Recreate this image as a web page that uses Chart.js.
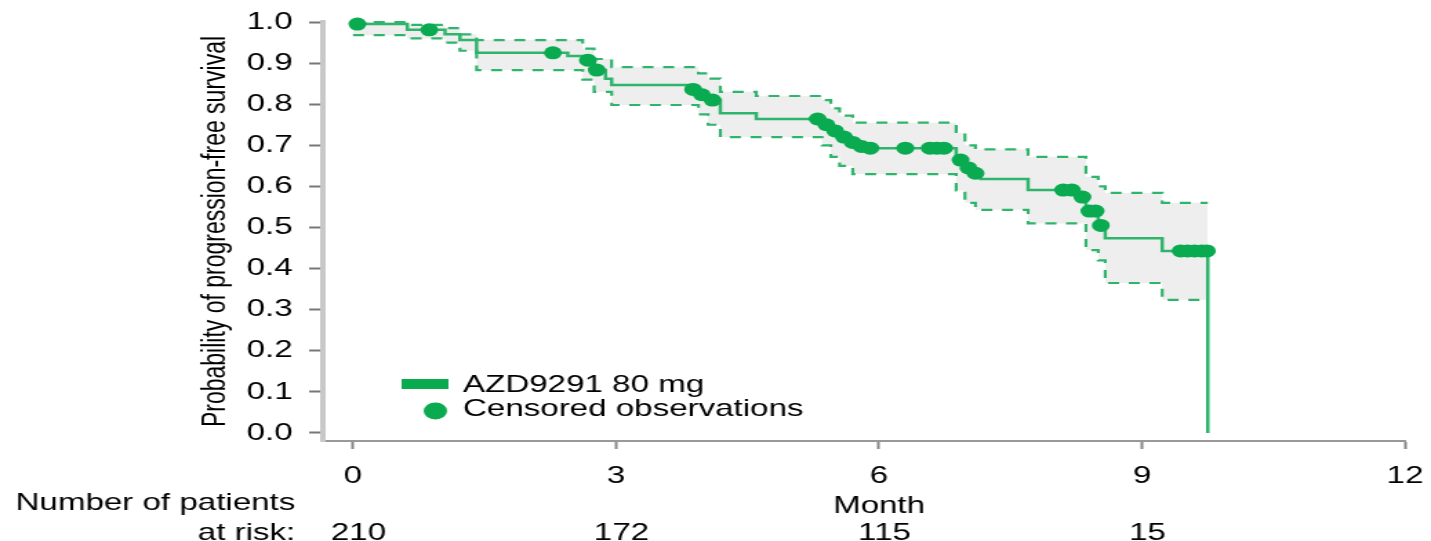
<!DOCTYPE html>
<html>
<head>
<meta charset="utf-8">
<script src="https://cdn.jsdelivr.net/npm/chart.js@4.4.1/dist/chart.umd.min.js"></script>
<style>
  html, body { margin: 0; padding: 0; background: #fff; overflow: hidden; }
  /* the drawing surface is rendered narrow and widened on screen (1431 / 1037) */
  #wrap { width: 1037px; height: 541px; transform: scaleX(1.37994); transform-origin: 0 0; }
  #pfs { display: block; }
</style>
</head>
<body>
<div id="wrap"><canvas id="pfs" width="1037" height="541"></canvas></div>
<script>
// Kaplan–Meier estimate of progression-free survival (months, probability)
const kmMonths = [0, 0.62, 1.05, 1.22, 1.41, 2.45, 2.65, 2.75, 2.88, 2.95, 3.84, 3.94, 4.05, 4.19, 4.60,
  5.35, 5.45, 5.55, 5.65, 5.75, 5.85, 6.88, 6.98, 7.06, 7.16, 7.70, 8.28, 8.36, 8.50, 8.58, 9.23, 9.75];
const kmSurvival = [0.995, 0.981, 0.970, 0.956, 0.925, 0.917, 0.907, 0.883, 0.862, 0.847, 0.836, 0.823, 0.810, 0.778, 0.764,
  0.750, 0.735, 0.720, 0.707, 0.697, 0.693, 0.664, 0.645, 0.632, 0.618, 0.591, 0.574, 0.540, 0.505, 0.474, 0.443, 0.000];

// censored observations sitting on the curve
const censorMonths = [0.05, 0.87, 2.28, 2.68, 2.78, 3.88, 3.98, 4.10, 5.30, 5.40, 5.50, 5.60, 5.70, 5.80, 5.90,
  6.30, 6.58, 6.66, 6.74, 6.93, 7.02, 7.10, 8.10, 8.20, 8.32, 8.40, 8.47, 8.53, 9.44, 9.52, 9.60, 9.68, 9.74];
const censorSurvival = [0.995, 0.981, 0.925, 0.907, 0.883, 0.836, 0.823, 0.810, 0.764, 0.750, 0.735, 0.720, 0.707, 0.697, 0.693,
  0.693, 0.693, 0.693, 0.693, 0.664, 0.645, 0.632, 0.591, 0.591, 0.574, 0.540, 0.540, 0.505, 0.443, 0.443, 0.443, 0.443, 0.443];

// pointwise confidence band
const ciMonths = [0, 0.62, 1.05, 1.22, 1.41, 2.62, 2.75, 2.95, 3.94, 4.05, 4.19, 4.60, 5.35, 5.45, 5.55,
  5.70, 6.88, 6.98, 7.10, 7.70, 8.36, 8.50, 8.58, 9.23, 9.75];
const ciUpper = [1.000, 0.993, 0.985, 0.970, 0.956, 0.935, 0.910, 0.890, 0.875, 0.862, 0.830, 0.820, 0.810, 0.790, 0.772,
  0.755, 0.730, 0.700, 0.690, 0.672, 0.623, 0.600, 0.584, 0.560, 0.560];
const ciLower = [0.968, 0.960, 0.950, 0.930, 0.883, 0.860, 0.830, 0.798, 0.775, 0.750, 0.720, 0.720, 0.700, 0.672, 0.650,
  0.630, 0.590, 0.560, 0.543, 0.510, 0.445, 0.420, 0.365, 0.324, 0.324];

// axes
const xTickValues = [0, 3, 6, 9, 12];
const xTickLabels = ['0', '3', '6', '9', '12'];
const yTickValues = [0, 0.1, 0.2, 0.3, 0.4, 0.5, 0.6, 0.7, 0.8, 0.9, 1.0];
const yTickLabels = ['0.0', '0.1', '0.2', '0.3', '0.4', '0.5', '0.6', '0.7', '0.8', '0.9', '1.0'];
const xTitle = 'Month';
const yTitle = 'Probability of progression-free survival';

// legend entries
const seriesName = 'AZD9291 80 mg';
const censorName = 'Censored observations';

// number at risk
const riskHeader = ['Number of patients', 'at risk:'];
const riskMonths = [0, 3, 6, 9];
const riskCounts = [210, 172, 115, 15];

const GREEN = '#0aab50';
const LINE_GREEN = '#2fb46c';
const FONT = '"Liberation Sans", Arial, Helvetica, sans-serif';

const toPoints = (xs, ys) => xs.map((x, i) => ({ x: x, y: ys[i] }));

// legend inside the plot and the at-risk table under the axis
const extras = {
  id: 'pfsExtras',
  afterDraw(chart) {
    const ctx = chart.ctx;
    const xs = chart.scales.x;
    ctx.save();
    ctx.font = '24px ' + FONT;
    ctx.fillStyle = '#000';
    ctx.textBaseline = 'middle';

    // legend
    ctx.fillStyle = GREEN;
    ctx.fillRect(291, 379, 34, 10);
    ctx.beginPath();
    ctx.arc(315.5, 411, 8.5, 0, Math.PI * 2);
    ctx.fill();
    ctx.fillStyle = '#000';
    ctx.textAlign = 'left';
    ctx.fillText(seriesName, 335.5, 385);
    ctx.fillText(censorName, 335.5, 409);

    // axis title
    ctx.textAlign = 'center';
    ctx.fillText(xTitle, xs.getPixelForValue(6), 506);

    // at-risk table
    ctx.textAlign = 'right';
    ctx.fillText(riskHeader[0], 214, 503);
    ctx.fillText(riskHeader[1], 214, 533);
    ctx.textAlign = 'center';
    riskMonths.forEach((m, i) => {
      ctx.fillText(String(riskCounts[i]), xs.getPixelForValue(m) + 4, 533);
    });
    ctx.restore();
  }
};

Chart.defaults.font.family = FONT;
Chart.defaults.color = '#000';

new Chart(document.getElementById('pfs'), {
  type: 'line',
  data: {
    datasets: [
      {
        label: censorName,
        data: toPoints(censorMonths, censorSurvival),
        showLine: false,
        pointRadius: 6.5,
        pointBackgroundColor: GREEN,
        pointBorderWidth: 0,
        clip: false,
        order: 0
      },
      {
        label: seriesName,
        data: toPoints(kmMonths, kmSurvival),
        stepped: true,
        borderColor: LINE_GREEN,
        borderWidth: 2.5,
        pointRadius: 0,
        fill: false,
        clip: false,
        order: 1
      },
      {
        label: 'upper',
        data: toPoints(ciMonths, ciUpper),
        stepped: true,
        borderColor: LINE_GREEN,
        borderWidth: 2.2,
        borderDash: [8, 7],
        pointRadius: 0,
        fill: '+1',
        backgroundColor: '#eeeeee',
        clip: false,
        order: 2
      },
      {
        label: 'lower',
        data: toPoints(ciMonths, ciLower),
        stepped: true,
        borderColor: LINE_GREEN,
        borderWidth: 2.2,
        borderDash: [8, 7],
        pointRadius: 0,
        fill: false,
        clip: false,
        order: 3
      }
    ]
  },
  options: {
    responsive: false,
    devicePixelRatio: 1,
    animation: false,
    events: [],
    layout: { padding: { left: 0, right: 18.8, top: 22, bottom: 0 } },
    plugins: {
      legend: { display: false },
      tooltip: { enabled: false },
      filler: { drawTime: 'beforeDatasetsDraw' }
    },
    scales: {
      x: {
        type: 'linear',
        min: -0.343,
        max: 12,
        afterBuildTicks: (s) => { s.ticks = xTickValues.map(v => ({ value: v })); },
        afterFit: (s) => { s.height = 100; s.paddingLeft = 0; s.paddingRight = 0; },
        ticks: {
          autoSkip: false,
          padding: 13,
          font: { size: 24 },
          color: '#000',
          callback: (v) => xTickLabels[xTickValues.indexOf(v)]
        },
        grid: { drawOnChartArea: false, tickLength: 8, tickWidth: 2, tickColor: '#888' },
        border: { display: true, color: '#999', width: 2 }
      },
      y: {
        type: 'linear',
        min: -0.0195,
        max: 1.0,
        afterBuildTicks: (s) => { s.ticks = yTickValues.map(v => ({ value: v })); },
        afterFit: (s) => { s.width = 234; s.paddingTop = 0; s.paddingBottom = 0; },
        ticks: {
          autoSkip: false,
          padding: 12,
          font: { size: 24 },
          color: '#000',
          callback: (v) => yTickLabels[yTickValues.indexOf(v)]
        },
        grid: { drawOnChartArea: false, tickLength: 10, tickWidth: 2, tickColor: '#777' },
        border: { display: true, color: '#c8c8c8', width: 4 },
        title: {
          display: true,
          text: yTitle,
          font: { size: 23 },
          color: '#000',
          padding: { top: 143, bottom: 0 }
        }
      }
    }
  },
  plugins: [extras]
});
</script>
</body>
</html>
